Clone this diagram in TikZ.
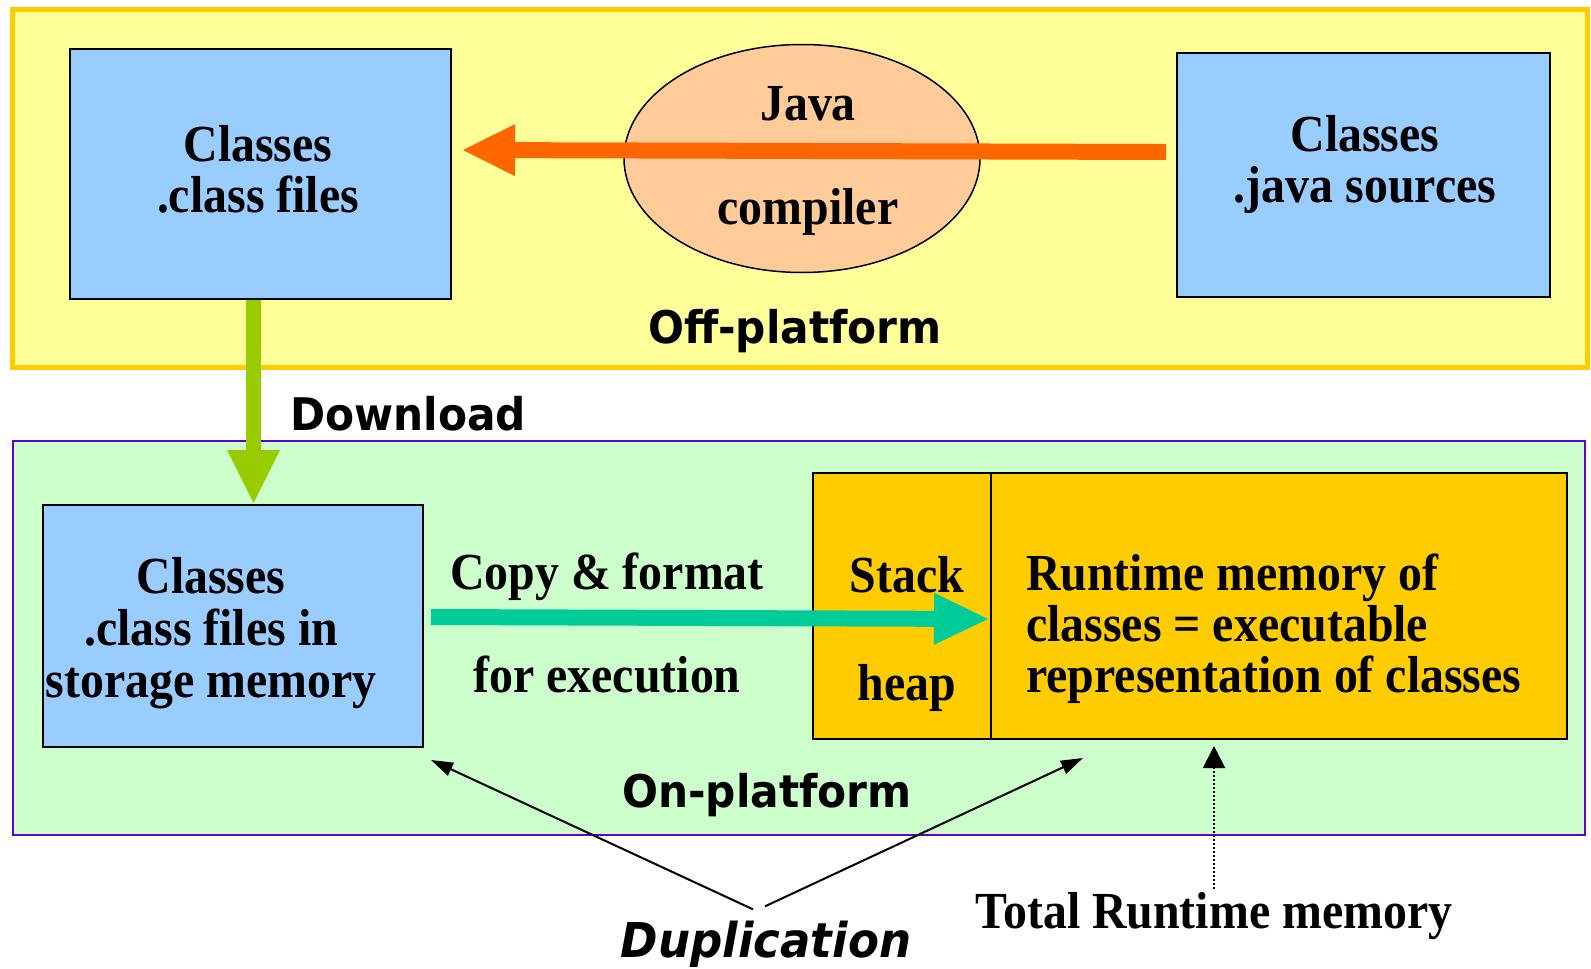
\documentclass[tikz,border=0pt]{standalone}
\usepackage{fontspec}
\usetikzlibrary{arrows.meta,shapes.geometric}

% Narrow bold faces for the labels
\newfontfamily\lblserif[FakeStretch=0.92]{Liberation Serif}
\newfontfamily\lblsans[FakeStretch=0.94]{DejaVu Sans}

\definecolor{offfill}{HTML}{FFFF99}
\definecolor{offline}{HTML}{FFCC00}
\definecolor{onfill}{HTML}{CCFFCC}
\definecolor{online}{HTML}{6600CC}
\definecolor{fileblue}{HTML}{99CCFF}
\definecolor{compfill}{HTML}{FFCC99}
\definecolor{memfill}{HTML}{FFCC00}
\definecolor{compileA}{HTML}{FF6600}
\definecolor{downA}{HTML}{99CC00}
\definecolor{copyA}{HTML}{00CC99}

\tikzset{
  zone/.style={rectangle, inner sep=0pt, outer sep=0pt},
  filebox/.style={rectangle, draw=black, line width=2pt, fill=fileblue, inner sep=0pt},
  membox/.style={rectangle, draw=black, line width=2pt, fill=memfill, inner sep=0pt},
  serifbig/.style={font=\lblserif\bfseries\fontsize{52}{51}\selectfont, inner sep=0pt},
  sansbig/.style={font=\lblsans\bfseries\fontsize{45}{50}\selectfont, inner sep=0pt},
  duptext/.style={font=\lblsans\bfseries\itshape\fontsize{48}{54}\selectfont, inner sep=0pt},
  bigarrow/.style={line width=#1, line cap=butt},
  thinarrow/.style={draw=black, line width=2pt, -{Triangle[length=22pt,width=14pt]}},
  dotarrow/.style={draw=black, line width=2pt, dash pattern=on 2pt off 2pt,
                   -{Triangle[length=22pt,width=22pt]}}
}

\begin{document}
\begin{tikzpicture}[x=1pt,y=-1pt]
\useasboundingbox (0,0) rectangle (1591,969);

% platform regions
\node[zone, fill=offfill, draw=offline, line width=5pt,
      minimum width=1575pt, minimum height=358pt] (off) at (799.5,188) {};
\node[zone, fill=onfill, draw=online, line width=2.5pt,
      minimum width=1572pt, minimum height=394pt] (on) at (799,638) {};

% off-platform boxes
\node[filebox, minimum width=381pt, minimum height=250pt] (cls) at (260.5,174) {};
\node[filebox, minimum width=373pt, minimum height=244pt] (src) at (1363.5,175) {};
\node[ellipse, draw=black, line width=1.5pt, fill=compfill, inner sep=0pt,
      minimum width=356pt, minimum height=228pt] (javac) at (802,158.5) {};

% on-platform boxes
\node[filebox, minimum width=380pt, minimum height=242pt] (store) at (233,626) {};
\node[membox, minimum width=178pt, minimum height=266pt] (stack) at (902,606) {};
\node[membox, minimum width=576pt, minimum height=266pt] (rtm) at (1279,606) {};

% labels (multi-line labels are placed by the baseline of their last line)
\node[serifbig, align=center, anchor=base] (clsT) at (258,212) {Classes\\.class files};
\node[serifbig, align=center, anchor=base] (srcT) at (1365,202) {Classes\\.java sources};
\node[serifbig, align=center, anchor=base,
      font=\lblserif\bfseries\fontsize{52}{104}\selectfont] (javacT) at (808,224) {Java\\compiler};
\node[sansbig, anchor=base] (offT) at (795,343) {Off-platform};
\node[sansbig, anchor=base] (dlT) at (408,430) {Download};
\node[serifbig, align=center, anchor=base,
      font=\lblserif\bfseries\fontsize{52}{52}\selectfont] (storeT) at (211,697)
      {Classes\\.class files in\\storage memory};
\node[serifbig, align=center, anchor=base,
      font=\lblserif\bfseries\fontsize{52}{103}\selectfont] (copyT) at (607,692)
      {Copy \& format\\for execution};
\node[serifbig, align=center, anchor=base,
      font=\lblserif\bfseries\fontsize{52}{108}\selectfont] (stackT) at (907,700) {Stack\\heap};
\node[serifbig, align=left, anchor=base west] (rtmT) at (1026,692)
      {Runtime memory of\\classes = executable\\representation of classes};
\node[sansbig, anchor=base] (onT) at (767,807) {On-platform};
\node[duptext, anchor=base] (dup) at (766,957) {Duplication};
\node[serifbig, anchor=base] (total) at (1214,928) {Total Runtime memory};

% compile, download and load arrows
\draw[bigarrow=16pt, draw=compileA,
      -{Triangle[length=52pt,width=52pt,line width=0pt,fill=compileA]}]
  ([xshift=-10pt,yshift=23pt]src.west) -- ([xshift=11pt,yshift=24pt]cls.east);
\draw[bigarrow=15pt, draw=downA,
      -{Triangle[length=53pt,width=53pt,line width=0pt,fill=downA]}]
  ([xshift=-7pt]cls.south) -- ([xshift=-7pt,yshift=1pt]cls.south |- store.north);
\draw[bigarrow=16pt, draw=copyA,
      -{Triangle[length=54pt,width=52pt,line width=0pt,fill=copyA]}]
  ([xshift=7pt,yshift=9pt]store.east) -- ([xshift=-4pt,yshift=-13pt]stack.east);

% duplication pointers
\draw[thinarrow] ([xshift=-13pt,yshift=11pt]dup.north) -- ([xshift=7pt,yshift=-12pt]store.south east);
\draw[thinarrow] ([xshift=-1pt,yshift=14pt]dup.north) -- ([xshift=93pt,yshift=-18pt]rtm.south west);

% total runtime memory pointer
\draw[dotarrow, shorten >=6pt] ([yshift=3pt]total.north) -- (total.north |- rtm.south);
\end{tikzpicture}
\end{document}
